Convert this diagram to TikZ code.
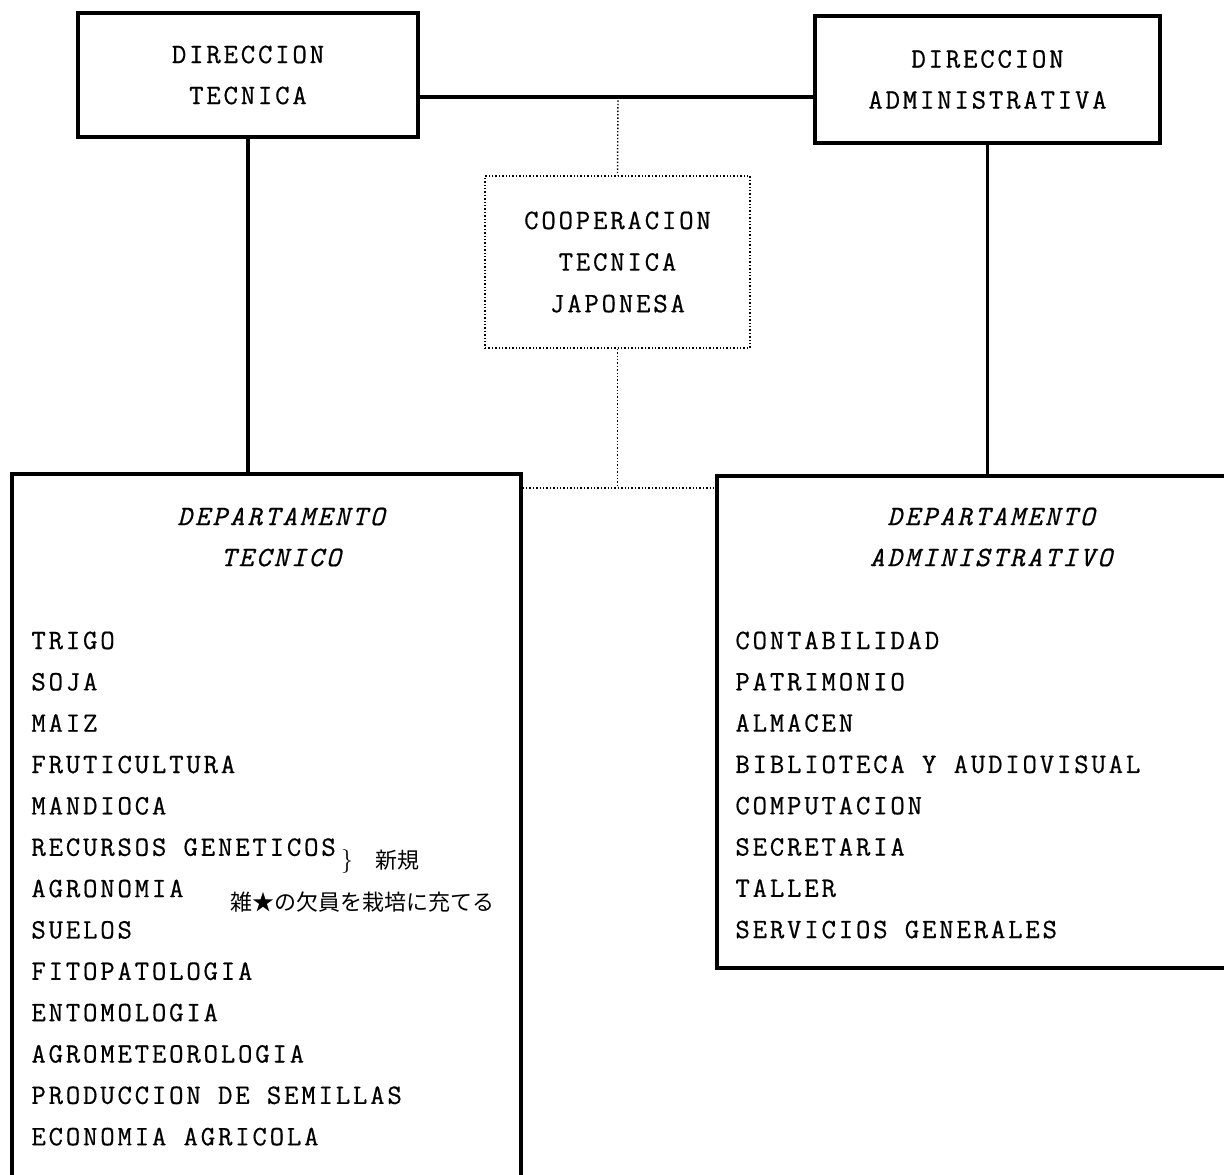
\documentclass[tikz,border=0pt]{standalone}
\usepackage{fontspec}
\newfontfamily\typew{Latin Modern Mono}[LetterSpace=10, FakeBold=0.6]
\newfontfamily\jpfont{Noto Sans CJK JP}
\usepackage{tikz}
\usetikzlibrary{positioning}

\begin{document}
\begin{tikzpicture}[x=0.5pt,y=-0.5pt,
    box/.style={rectangle, draw, line width=1.6pt, align=center, font=\typew\fontsize{14}{20.5}\selectfont},
    coopbox/.style={rectangle, draw, densely dotted, line width=0.7pt, align=center, font=\typew\fontsize{14}{20.8}\selectfont},
    dept/.style={rectangle, draw, line width=1.6pt},
    heading/.style={align=center, font=\typew\itshape\fontsize{14}{20.5}\selectfont},
    item/.style={anchor=base west, inner sep=0pt, font=\typew\fontsize{14}{17}\selectfont},
    jp/.style={anchor=west, inner sep=0pt, font=\jpfont\fontsize{11}{13}\selectfont},
    link/.style={line width=1.6pt},
    dotlink/.style={densely dotted, line width=0.7pt}]
    \useasboundingbox (0,0) rectangle (1224,1174);
    \clip (0,0) rectangle (1224,1174);

    \node[box, minimum width=170pt, minimum height=62pt] (dirtec) at (248,75) {DIRECCION\\TECNICA};
    \node[box, minimum width=172.5pt, minimum height=63.5pt] (diradm) at (987.5,79.5) {DIRECCION\\ADMINISTRATIVA};
    \node[coopbox, minimum width=132.5pt, minimum height=86pt] (coop) at (617.5,262) {COOPERACION\\TECNICA\\JAPONESA};

    \node[dept, minimum width=254.5pt, minimum height=363pt] (deptec) at (266.5,837) {};
    \node[dept, minimum width=261.5pt, minimum height=246pt] (depadm) at (978.5,722) {};

    \node[heading] (tectitle) at (281,537) {DEPARTAMENTO\\TECNICO};
    \node[heading] (admtitle) at (991,537) {DEPARTAMENTO\\ADMINISTRATIVO};

    \foreach \name [count=\i] in {TRIGO, SOJA, MAIZ, FRUTICULTURA, MANDIOCA, RECURSOS GENETICOS, AGRONOMIA, SUELOS, FITOPATOLOGIA, ENTOMOLOGIA, AGROMETEOROLOGIA, PRODUCCION DE SEMILLAS, ECONOMIA AGRICOLA}
        \node[item] (tec\i) at (31,{649+41.35*(\i-1)}) {\name};
    \foreach \name [count=\i] in {CONTABILIDAD, PATRIMONIO, ALMACEN, BIBLIOTECA Y AUDIOVISUAL, COMPUTACION, SECRETARIA, TALLER, SERVICIOS GENERALES}
        \node[item] (adm\i) at (735,{649+41.3*(\i-1)}) {\name};

    % handwritten note
    \node[font=\fontsize{12}{14}\selectfont, inner sep=0pt] (brace) at (347,861) {\}};
    \node[jp] (nuevo) at (375,860) {新規};
    \node[jp] (nota) at (230,902) {雑★の欠員を栽培に充てる};

    \coordinate (topmid) at (618,97);
    \draw[link] (dirtec.east |- topmid) -- (diradm.west |- topmid);
    \draw[dotlink] (topmid) -- (coop.north);
    \draw[link] (dirtec.south) -- (dirtec.south |- deptec.north);
    \draw[link] (diradm.south) -- (diradm.south |- depadm.north);

    \coordinate (lowmid) at (coop.south |- 0,488);
    \draw[dotlink] (coop.south) -- (lowmid);
    \draw[dotlink] (deptec.east |- lowmid) -- (depadm.west |- lowmid);

\end{tikzpicture}
\end{document}
